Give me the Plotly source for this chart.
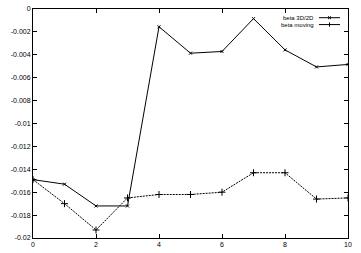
import plotly.graph_objects as go

x_vals = [0, 1, 2, 3, 4, 5, 6, 7, 8, 9, 10]
beta_3d2d = [-0.0149, -0.0153, -0.0172, -0.0172, -0.00155, -0.00386, -0.00371,
             -0.00084, -0.00357, -0.00506, -0.00484]
beta_moving = [-0.0149, -0.0170, -0.0193, -0.0165, -0.0162, -0.0162, -0.0160,
               -0.0143, -0.0143, -0.0166, -0.0165]
series_names = ["beta 3D/2D", "beta moving"]
x_ticks = [0, 2, 4, 6, 8, 10]
y_ticks = [0, -0.002, -0.004, -0.006, -0.008, -0.01, -0.012, -0.014, -0.016, -0.018, -0.02]
y_tick_labels = ["0", "-0.002", "-0.004", "-0.006", "-0.008", "-0.01", "-0.012",
                 "-0.014", "-0.016", "-0.018", "-0.02"]

FONT = "Liberation Sans"

fig = go.Figure()
fig.add_trace(go.Scatter(
    x=x_vals, y=beta_3d2d, mode="lines+markers", name=series_names[0],
    line=dict(color="black", width=1),
    marker=dict(symbol="x-thin", size=3, line=dict(color="black", width=1)),
))
fig.add_trace(go.Scatter(
    x=x_vals, y=beta_moving, mode="lines+markers", name=series_names[1],
    line=dict(color="black", width=1, dash="2px,1px"),
    marker=dict(symbol="cross-thin", size=5, line=dict(color="black", width=1)),
))

axis_common = dict(
    showline=True, linecolor="black", linewidth=1, mirror="ticks",
    ticks="inside", ticklen=4, tickcolor="black", tickwidth=1,
    showgrid=False, zeroline=False,
    tickfont=dict(family=FONT, size=7, color="black"),
)
fig.update_xaxes(range=[0, 10], tickvals=x_ticks, **axis_common)
fig.update_yaxes(range=[-0.02, 0], tickvals=y_ticks, ticktext=y_tick_labels, **axis_common)

# custom gnuplot-style legend (text left, sample right)
legend_rows = [(0.962, "x"), (0.932, "+")]
x_text_right = (316 - 33) / 315
x_l0 = (319 - 33) / 315
x_l1 = (340 - 33) / 315
xm = (x_l0 + x_l1) / 2
for (yp, sym), name in zip(legend_rows, series_names):
    fig.add_annotation(x=x_text_right, y=yp, xref="paper", yref="paper", text=name,
                       showarrow=False, xanchor="right", yanchor="middle",
                       font=dict(family=FONT, size=6, color="black"))
    fig.add_shape(type="line", xref="paper", yref="paper", x0=x_l0, x1=x_l1, y0=yp, y1=yp,
                  line=dict(color="black", width=1))
    dx, dy = 1.5 / 315, 1.5 / 237
    if sym == "x":
        fig.add_shape(type="line", xref="paper", yref="paper", x0=xm - dx, x1=xm + dx,
                      y0=yp - dy, y1=yp + dy, line=dict(color="black", width=1))
        fig.add_shape(type="line", xref="paper", yref="paper", x0=xm - dx, x1=xm + dx,
                      y0=yp + dy, y1=yp - dy, line=dict(color="black", width=1))
    else:
        fig.add_shape(type="line", xref="paper", yref="paper", x0=xm, x1=xm,
                      y0=yp - 1.5 * dy, y1=yp + 1.5 * dy, line=dict(color="black", width=1))

fig.update_layout(
    width=361, height=253,
    margin=dict(l=33, r=13, t=5, b=11),
    paper_bgcolor="white", plot_bgcolor="white",
    showlegend=False,
    font=dict(family=FONT, size=7, color="black"),
)

fig.write_html("out.html", config={"displayModeBar": False})
